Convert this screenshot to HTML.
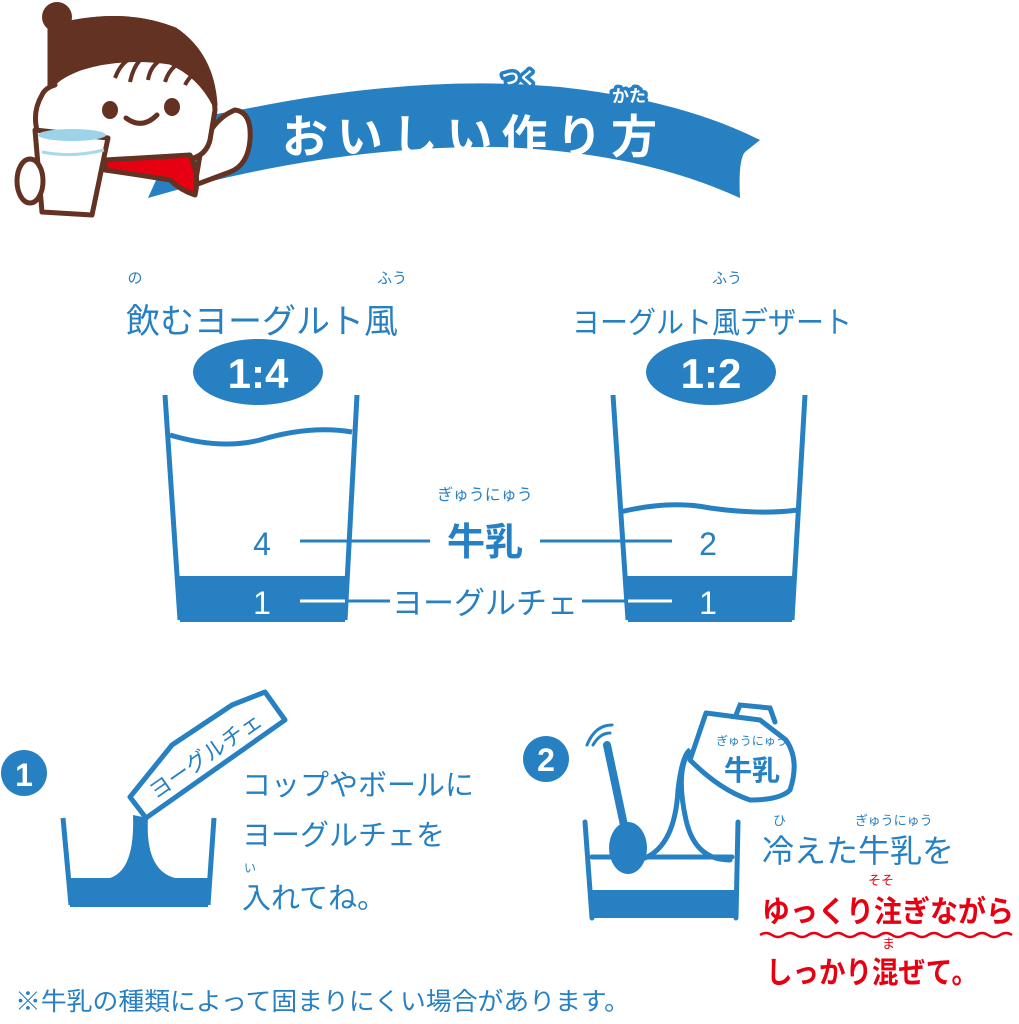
<!DOCTYPE html>
<html><head><meta charset="utf-8"><style>
html,body{margin:0;padding:0;background:#fff;width:1019px;height:1024px;overflow:hidden}
svg{display:block}
text{font-family:"Liberation Sans","Noto Sans CJK JP",sans-serif;}
</style></head><body>
<svg width="1019" height="1024" viewBox="0 0 1019 1024" xmlns="http://www.w3.org/2000/svg">
<!-- banner -->
<path d="M183,120 L250,108 Q420,74 560,87 Q680,100 760,140 L745,152 Q738,160 740,198 Q640,152 500,147 Q330,145 148,198 Z" fill="#2680c2"/>
<!-- character -->
<g stroke="#643222" stroke-width="5" stroke-linejoin="round">
<path d="M195,185 L200,155 Q210,120 235,110 Q252,112 250,140 Q248,165 230,172 Z" fill="#fff"/>
<path d="M50,85 L50,28 Q120,8 175,30 Q212,55 215,110 L210,140 Q205,160 180,160 L100,162 Q55,160 40,140 Q30,115 42,95 Q45,88 55,85 Z" fill="#fff"/>
<path d="M50,82 L50,28 Q120,8 175,30 Q212,55 215,105 Q200,75 170,62 Q120,55 80,68 Q62,75 55,82 Z" fill="#643222"/>
<path d="M105,160 L190,155 Q200,175 195,195 Q180,190 170,180 Q140,175 105,170 Z" fill="#e60012"/>
<path d="M35,130 L108,138 L92,215 L42,212 Z" fill="#fff"/>
<ellipse cx="30" cy="181" rx="13" ry="22" fill="#fff"/>
</g>
<circle cx="57" cy="17" r="15" fill="#643222"/>
<path d="M115,78 Q120,65 128,60 M130,82 Q133,68 140,60 M148,80 Q150,68 158,62 M165,82 Q168,72 175,66 M185,85 Q190,75 198,72" stroke="#643222" stroke-width="4" fill="none"/>
<ellipse cx="72" cy="135" rx="34" ry="6" fill="#9dd3e8"/>
<path d="M42,152 Q72,158 104,150" stroke="#a8d8ec" stroke-width="3" fill="none"/>
<ellipse cx="110" cy="110" rx="8" ry="9" fill="#643222"/>
<ellipse cx="172" cy="107" rx="8" ry="9" fill="#643222"/>
<path d="M126,118 Q142,130 157,115" stroke="#643222" stroke-width="5" fill="none" stroke-linecap="round"/>
<text x="282" y="153" font-size="46" fill="#fff" font-weight="bold" textLength="375">おいしい作り方</text>
<g font-size="17" fill="#fff" font-weight="bold" stroke="#2680c2" stroke-width="7" paint-order="stroke" stroke-linejoin="round">
<text x="502" y="84">つく</text>
<text x="612" y="102">かた</text>
</g>

<!-- titles -->
<g fill="#2680c2" text-anchor="middle">
<text x="262" y="333" font-size="34">飲むヨーグルト風</text>
<text x="135" y="283" font-size="15">の</text>
<text x="392" y="283" font-size="15">ふう</text>
<text x="712" y="333" font-size="30" textLength="280" lengthAdjust="spacingAndGlyphs">ヨーグルト風デザート</text>
<text x="727" y="283" font-size="15">ふう</text>
</g>
<ellipse cx="258" cy="372" rx="65" ry="33" fill="#2680c2"/>
<ellipse cx="711" cy="372" rx="65" ry="33" fill="#2680c2"/>
<text x="258" y="388" font-size="42" fill="#fff" text-anchor="middle" font-weight="bold">1:4</text>
<text x="711" y="388" font-size="42" fill="#fff" text-anchor="middle" font-weight="bold">1:2</text>

<!-- cups -->
<g stroke="#2680c2" stroke-width="5" fill="none">
<path d="M165,395 L180,620 M357,395 L345,620"/>
<path d="M170,435 Q220,450 260,440 Q310,425 352,432"/>
<path d="M613,395 L628,620 M805,395 L792,620"/>
<path d="M620,512 Q670,500 710,508 Q760,515 798,510"/>
</g>
<path d="M177,576 L348,576 L345,622 L180,622 Z" fill="#2680c2"/>
<path d="M625,576 L795,576 L792,622 L628,622 Z" fill="#2680c2"/>
<g fill="#2680c2" text-anchor="middle">
<text x="262" y="555" font-size="32">4</text>
<text x="708" y="555" font-size="32">2</text>
<text x="485" y="555" font-size="38" font-weight="bold">牛乳</text>
<text x="485" y="500" font-size="16">ぎゅうにゅう</text>
<text x="485" y="614" font-size="31">ヨーグルチェ</text>
</g>
<text x="262" y="614" font-size="32" fill="#fff" text-anchor="middle">1</text>
<text x="708" y="614" font-size="32" fill="#fff" text-anchor="middle">1</text>
<g stroke="#2680c2" stroke-width="3">
<line x1="300" y1="541" x2="430" y2="541"/><line x1="540" y1="541" x2="672" y2="541"/>
<line x1="345" y1="601" x2="390" y2="601"/><line x1="582" y1="601" x2="628" y2="601"/>
</g>
<g stroke="#fff" stroke-width="3">
<line x1="300" y1="601" x2="345" y2="601"/><line x1="628" y1="601" x2="672" y2="601"/>
</g>

<!-- step 1 -->
<circle cx="24" cy="773" r="23" fill="#2680c2"/>
<text x="24" y="786" font-size="32" fill="#fff" text-anchor="middle" font-weight="bold">1</text>
<g stroke="#2680c2" stroke-width="5" fill="none">
<path d="M63,818 L71,905 M214,818 L208,905"/>
<path d="M130,797 L146,818 L285,720 L265,692 L232,705 L172,745 Z" stroke-linejoin="round"/>
</g>
<path d="M70,878 L208,878 L208,907 L70,907 Z M133,815 L148,818 Q145,870 175,878 L110,878 Q135,870 133,815 Z" fill="#2680c2"/>
<text x="210" y="762" font-size="22" fill="#2680c2" transform="rotate(-35 210 762)" text-anchor="middle">ヨーグルチェ</text>
<g fill="#2680c2" font-size="29">
<text x="242" y="795">コップやボールに</text>
<text x="242" y="845">ヨーグルチェを</text>
<text x="242" y="908">入れてね。</text>
<text x="244" y="872" font-size="12">い</text>
</g>

<!-- step 2 -->
<circle cx="546" cy="759" r="23" fill="#2680c2"/>
<text x="546" y="771" font-size="32" fill="#fff" text-anchor="middle" font-weight="bold">2</text>
<g stroke="#2680c2" stroke-width="5" fill="none" stroke-linecap="round">
<path d="M585,822 L592,918 M738,822 L736,918"/>
<path d="M592,857 L732,857"/>
<path d="M607,745 L625,830" stroke-width="8"/>
<path d="M587,745 Q595,725 612,725 M593,745 Q600,733 610,733" stroke-width="3"/>
<path d="M645,858 Q675,845 678,790 Q682,755 690,750 Q675,770 686,820 Q695,860 730,860"/>
<path d="M706,713 L760,720 L786,740 Q800,760 790,790 Q780,800 750,800 Q720,790 690,760 Z" stroke-linejoin="round"/>
<path d="M736,715 L740,705 L770,708 L775,722"/>
</g>
<path d="M590,890 L737,890 L736,918 L593,918 Z" fill="#2680c2"/>
<ellipse cx="628" cy="848" rx="19" ry="26" fill="#2680c2"/>
<text x="752" y="745" font-size="12" fill="#2680c2" text-anchor="middle">ぎゅうにゅう</text>
<text x="752" y="780" font-size="28" fill="#2680c2" text-anchor="middle" font-weight="bold">牛乳</text>
<g fill="#2680c2">
<text x="762" y="862" font-size="32">冷えた牛乳を</text>
<text x="773" y="825" font-size="13">ひ</text>
<text x="855" y="825" font-size="13">ぎゅうにゅう</text>
</g>
<g fill="#e60012">
<text x="762" y="922" font-size="30" font-weight="bold" textLength="252" lengthAdjust="spacingAndGlyphs">ゆっくり注ぎながら</text>
<text x="868" y="885" font-size="13">そそ</text>
<text x="882" y="948" font-size="13">ま</text>
<text x="766" y="983" font-size="30" font-weight="bold" textLength="212" lengthAdjust="spacingAndGlyphs">しっかり混ぜて。</text>
</g>
<path d="M760,935 q6,-4 12,0 t12,0 t12,0 t12,0 t12,0 t12,0 t12,0 t12,0 t12,0 t12,0 t12,0 t12,0 t12,0 t12,0 t12,0 t12,0 t12,0 t12,0 t12,0 t12,0 t12,0" stroke="#e60012" stroke-width="2.5" fill="none"/>
<text x="15" y="1010" font-size="25" fill="#2680c2" textLength="615" lengthAdjust="spacingAndGlyphs">※牛乳の種類によって固まりにくい場合があります。</text>
</svg>
</body></html>
